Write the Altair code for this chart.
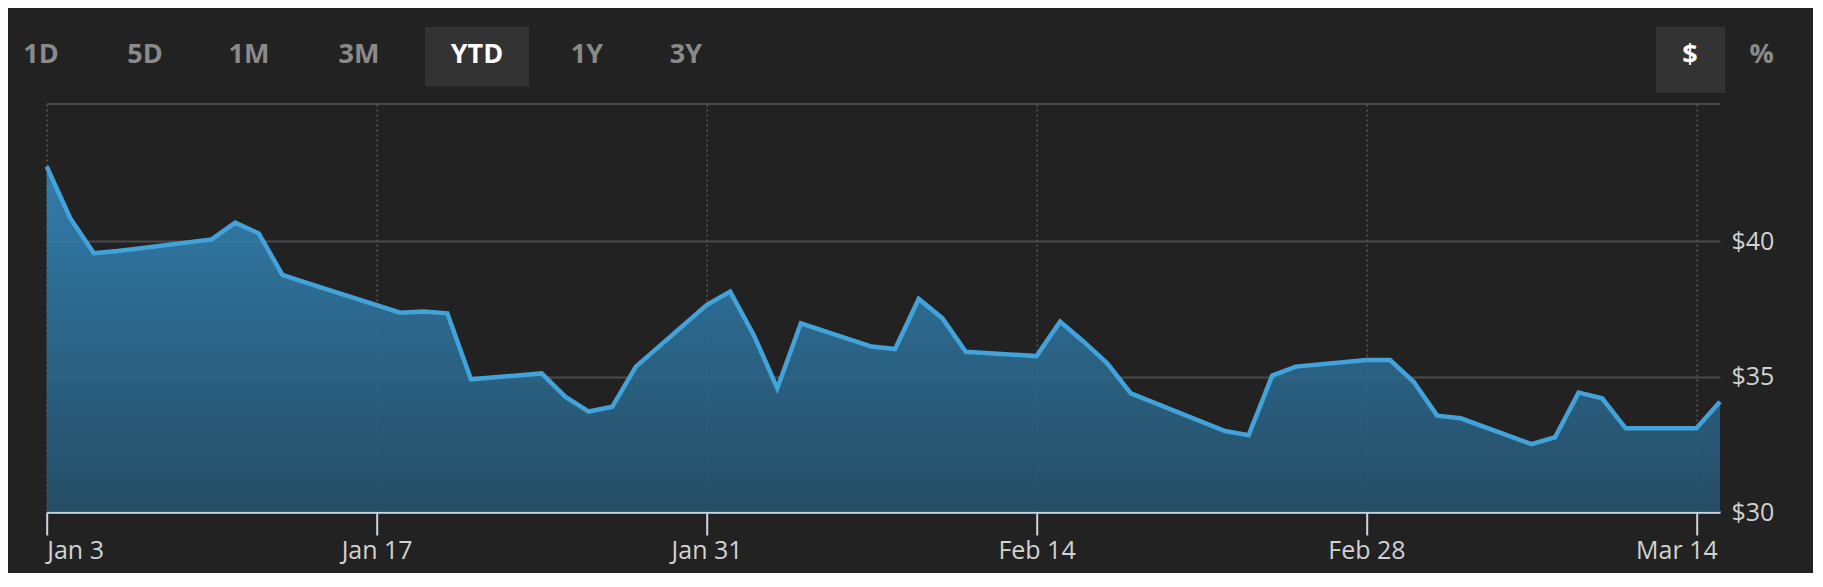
import altair as alt
import pandas as pd

# ---------------- data ----------------
dates = [
    "2022-01-03", "2022-01-04", "2022-01-05", "2022-01-06", "2022-01-07",
    "2022-01-10", "2022-01-11", "2022-01-12", "2022-01-13", "2022-01-14",
    "2022-01-18", "2022-01-19", "2022-01-20", "2022-01-21",
    "2022-01-24", "2022-01-25", "2022-01-26", "2022-01-27", "2022-01-28",
    "2022-01-31", "2022-02-01", "2022-02-02", "2022-02-03", "2022-02-04",
    "2022-02-07", "2022-02-08", "2022-02-09", "2022-02-10", "2022-02-11",
    "2022-02-14", "2022-02-15", "2022-02-16", "2022-02-17", "2022-02-18",
    "2022-02-22", "2022-02-23", "2022-02-24", "2022-02-25",
    "2022-02-28", "2022-03-01", "2022-03-02", "2022-03-03", "2022-03-04",
    "2022-03-07", "2022-03-08", "2022-03-09", "2022-03-10", "2022-03-11",
    "2022-03-14", "2022-03-15",
]
prices = [
    42.76, 40.85, 39.56, 39.64, 39.74,
    40.07, 40.69, 40.29, 38.76, 38.47,
    37.36, 37.41, 37.34, 34.90,
    35.12, 34.26, 33.71, 33.89, 35.37,
    37.64, 38.14, 36.54, 34.57, 36.97,
    36.11, 36.02, 37.87, 37.16, 35.92,
    35.76, 37.03, 36.29, 35.49, 34.38,
    32.99, 32.84, 35.04, 35.37,
    35.61, 35.61, 34.81, 33.56, 33.46,
    32.51, 32.76, 34.41, 34.20, 33.09,
    33.09, 34.07,
]
x_tick_dates = [(2022, 1, 3), (2022, 1, 17), (2022, 1, 31),
                (2022, 2, 14), (2022, 2, 28), (2022, 3, 14)]
x_domain = [(2022, 1, 3), (2022, 3, 15)]
y_ticks = [30, 35, 40]
y_domain = [30, 45.07]
range_buttons = ["1D", "5D", "1M", "3M", "YTD", "1Y", "3Y"]
active_range = "YTD"
unit_buttons = ["$", "%"]
active_unit = "$"

# ---------------- layout / style ----------------
W, H = 1673.3, 408
FONT = "Open Sans"
BG = "#222222"
GRID = "#4a4a4a"
LINE = "#42a3da"
AXIS_LIGHT = "#c9d6e2"
LABEL = "#d2d2d2"
BTN_GRAY = "#8a8a8a"
BOX = "#333333"

range_btn_x = [-5.7, 98.3, 202.3, 312.3, 430.3, 540.3, 639.3]
unit_btn_x = [1643.3, 1715.0]
btn_y = -49
range_box = (378.3, 482.3, -77.3, -18.0)
unit_box = (1609.3, 1678.3, -77.3, -11.3)

df = pd.DataFrame({"date": pd.to_datetime(dates), "price": prices})


def dt(t):
    return alt.DateTime(year=t[0], month=t[1], date=t[2])


x_enc = alt.X(
    "date:T",
    title=None,
    scale=alt.Scale(domain=[dt(d) for d in x_domain]),
    axis=alt.Axis(
        values=[dt(d) for d in x_tick_dates],
        format="%b %-d",
        grid=True,
        gridColor="#5a5a5a",
        gridDash=[2, 3],
        gridWidth=1.5,
        domainColor=AXIS_LIGHT,
        domainWidth=2.5,
        tickColor=AXIS_LIGHT,
        tickWidth=2,
        tickSize=23,
        labelColor=LABEL,
        labelFont=FONT,
        labelFontSize=25,
        labelPadding=3,
        labelBaseline="top",
        labelAlign={"condition": {"test": "datum.value <= datetime(2022,0,4)", "value": "left"},
                    "value": "center"},
        labelOffset={"condition": {"test": "datum.value >= datetime(2022,2,10)", "value": -20},
                     "value": 0},
    ),
)
y_enc = alt.Y(
    "price:Q",
    title=None,
    scale=alt.Scale(domain=y_domain, zero=False, nice=False),
    axis=alt.Axis(
        orient="right",
        values=y_ticks,
        labelExpr="'$' + datum.value",
        grid=True,
        gridColor=GRID,
        gridWidth=2,
        domain=False,
        ticks=False,
        labelPadding=11,
        labelColor=LABEL,
        labelFont=FONT,
        labelFontSize=25,
        labelBaseline="middle",
    ),
)

gradient = alt.Gradient(
    gradient="linear",
    stops=[
        alt.GradientStop(color="#3487bb", offset=0),
        alt.GradientStop(color="#2c6c93", offset=0.5),
        alt.GradientStop(color="#26516c", offset=1),
    ],
    x1=1, x2=1, y1=0, y2=1,
)

base = alt.Chart(df)
area = base.mark_area(color=gradient, opacity=0.9).encode(x=x_enc, y=y_enc, y2=alt.datum(30))
line = base.mark_line(color=LINE, strokeWidth=4.5, strokeJoin="miter").encode(
    x="date:T", y="price:Q")

one = pd.DataFrame({"k": [0]})
top_rule = alt.Chart(one).mark_rule(color=GRID, strokeWidth=2).encode(
    x=alt.value(0), x2=alt.value(W), y=alt.value(0))


def box(b):
    return alt.Chart(one).mark_rect(color=BOX).encode(
        x=alt.value(b[0]), x2=alt.value(b[1]), y=alt.value(b[2]), y2=alt.value(b[3]))


def button(label, px, active):
    return alt.Chart(pd.DataFrame({"label": [label]})).mark_text(
        font=FONT, fontSize=27, fontWeight="bold", align="center", baseline="middle",
        color="#ffffff" if active else BTN_GRAY,
    ).encode(text="label:N", x=alt.value(px), y=alt.value(btn_y))


layers = [area, line, top_rule, box(range_box), box(unit_box)]
layers += [button(b, px, b == active_range) for b, px in zip(range_buttons, range_btn_x)]
layers += [button(b, px, b == active_unit) for b, px in zip(unit_buttons, unit_btn_x)]

chart = alt.layer(*layers).properties(
    width=W,
    height=H,
    autosize=alt.AutoSizeParams(type="none"),
    padding={"left": 38.7, "top": 96, "right": 93, "bottom": 61},
).configure(background=BG).configure_view(stroke=None)

chart.save("out.html", embed_options={"renderer": "svg", "actions": False})
